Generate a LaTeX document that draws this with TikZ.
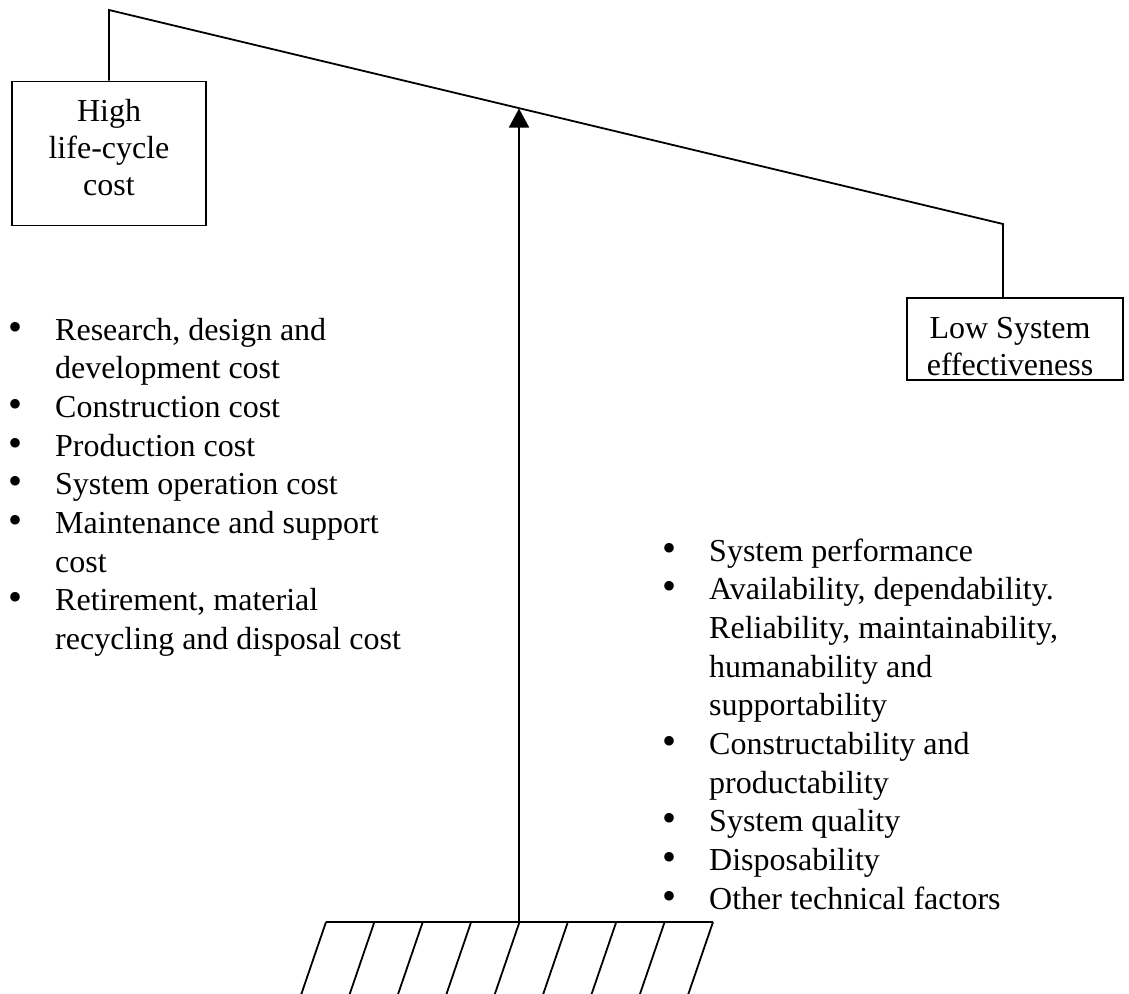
\documentclass[tikz,border=0pt]{standalone}
\usepackage{fontspec}
\setmainfont{Liberation Serif}
\usetikzlibrary{arrows.meta,calc}
\newcommand{\bul}{\makebox[47pt][l]{\raisebox{0pt}{\fontsize{40}{38.7}\selectfont\textbullet}}}
\begin{document}
\begin{tikzpicture}[x=1pt,y=-1pt,
  ln/.style={line width=1.8pt},
  boxnode/.style={draw,line width=1.8pt,inner sep=0pt},
  txt/.style={inner sep=0pt,font=\fontsize{32}{37}\selectfont},
  lst/.style={inner sep=0pt,anchor=base west,font=\fontsize{32}{38.7}\selectfont}]
\useasboundingbox (0,0) rectangle (1129,993);
% boxes
\node[boxnode,minimum width=194pt,minimum height=144pt] (hbox) at (109,153.5) {};
\node[txt,align=center] (htxt) at (109,148) {High\\life-cycle\\cost};
\node[boxnode,minimum width=216pt,minimum height=82pt] (lbox) at (1015,339) {};
\node[txt,align=center] (ltxt) at (1010,347) {Low System\\effectiveness};
% beam
\coordinate (pl) at (109,10);
\coordinate (pr) at (1003,224);
\coordinate (pivot) at (519,108.5);
\draw[ln,line join=miter] (hbox.north -| pl) -- (pl) -- (pr) -- (lbox.north -| pr);
% base
\coordinate (bl) at (326,922);
\coordinate (br) at (713,922);
\coordinate (bm) at (519,922);
\draw[ln] (bl) -- (br);
\begin{scope}
\clip (0,0) rectangle (1129,993);
\foreach \k in {0,...,8}{
  \draw[ln] ($(bl)!\k/8!(br)$) -- ++(-25,73);
}
\end{scope}
\draw[ln,-{Triangle[width=20pt,length=19pt]}] (bm) -- (pivot);
% lists
\node[lst] (leftlist) at (8,340) {\begin{tabular}[t]{@{}l@{}l@{}}
\bul & Research, design and\\
 & development cost\\
\bul & Construction cost\\
\bul & Production cost\\
\bul & System operation cost\\
\bul & Maintenance and support\\
 & cost\\
\bul & Retirement, material\\
 & recycling and disposal cost
\end{tabular}};
\node[lst] (rightlist) at (662,561) {\begin{tabular}[t]{@{}l@{}l@{}}
\bul & System performance\\
\bul & Availability, dependability.\\
 & Reliability, maintainability,\\
 & humanability and\\
 & supportability\\
\bul & Constructability and\\
 & productability\\
\bul & System quality\\
\bul & Disposability\\
\bul & Other technical factors
\end{tabular}};
\end{tikzpicture}
\end{document}
